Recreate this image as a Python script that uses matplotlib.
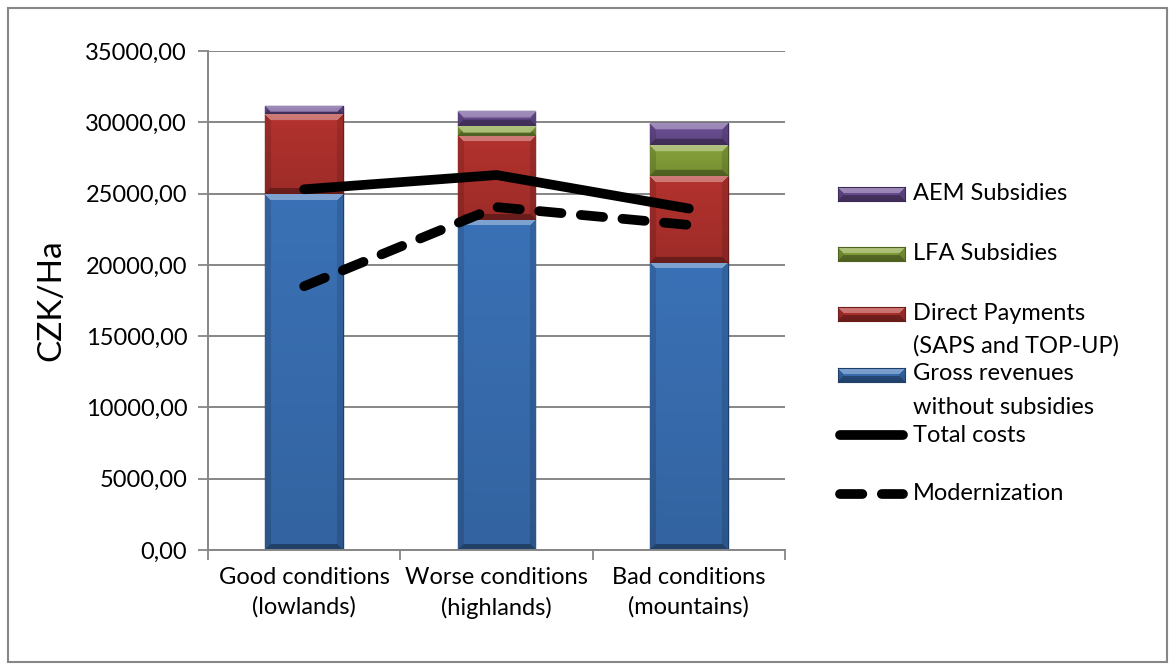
import matplotlib
matplotlib.use("Agg")
import matplotlib.pyplot as plt
import numpy as np
from matplotlib.colors import to_rgb
from matplotlib.patches import Rectangle
from matplotlib.lines import Line2D

plt.rcParams['font.family'] = ['Lato', 'DejaVu Sans']

categories = ['Good conditions\n(lowlands)', 'Worse conditions\n(highlands)', 'Bad conditions\n(mountains)']
gross = [24950, 23150, 20150]
direct = [5610, 5910, 6080]
lfa = [0, 700, 2170]
aem = [580, 1030, 1530]
total_costs = [25300, 26300, 23950]
modernization = [18500, 24050, 22800]

# name, values, base colour, edge colour
series = [
    ('Gross revenues\nwithout subsidies', gross, '#3a71b6', '#1f3f6b'),
    ('Direct Payments\n(SAPS and TOP-UP)', direct, '#b3322e', '#6e1c1a'),
    ('LFA Subsidies', lfa, '#86a23a', '#4f6320'),
    ('AEM Subsidies', aem, '#6c4f95', '#3c2b58'),
]


def bevel_image(color, w_px, h_px):
    # Excel-ish bevel: light top edge, dark bottom edge, darker sides
    base = np.array(to_rgb(color))
    w_px, h_px = max(int(w_px), 2), max(int(h_px), 2)
    img = np.tile(base, (h_px, w_px, 1))
    yy, xx = np.mgrid[0:h_px, 0:w_px]
    shade = np.zeros((h_px, w_px))
    b = 6
    dist_top = yy
    dist_bot = h_px - 1 - yy
    dist_side = np.minimum(xx, w_px - 1 - xx)
    top = (dist_top < b) & (dist_top <= dist_side)
    bot = (dist_bot < b) & (dist_bot <= dist_side) & ~top
    side = (dist_side < b) & ~top & ~bot
    shade[top] = 0.35
    shade[bot] = -0.3
    shade[side] = -0.12
    # slight vertical darkening
    shade += -0.12 * (yy / h_px)
    pos = shade > 0
    img[pos] = img[pos] + (1 - img[pos]) * shade[pos][:, None]
    img[~pos] = img[~pos] * (1 + shade[~pos])[:, None]
    return np.clip(img, 0, 1)


fig = plt.figure(figsize=(11.76, 6.7), dpi=100)
ax = fig.add_axes([208/1176, 1 - 550/670, (785-208)/1176, (550-51)/670])
ax.set_xlim(-0.5, 2.5)
ax.set_ylim(0, 35000)

x = np.arange(len(categories))
bottom = np.zeros(len(categories))
px_per_x = (785 - 208) / 3.0
px_per_y = (550 - 51) / 35000.0
for name, vals, col, edge in series:
    bars = ax.bar(x, vals, 0.405, bottom=bottom, color=col, edgecolor=edge, linewidth=1.0, zorder=2)
    for p in bars.patches:
        if p.get_height() <= 0:
            continue
        x0, y0 = p.get_x(), p.get_y()
        img = bevel_image(col, p.get_width() * px_per_x, p.get_height() * px_per_y)
        im = ax.imshow(img, aspect='auto', origin='upper', interpolation='bilinear',
                       extent=(x0, x0 + p.get_width(), y0, y0 + p.get_height()), zorder=2.1)
        im.set_clip_path(p)
    bottom += np.array(vals)

ax.plot(x, total_costs, color='black', lw=7, solid_capstyle='round', solid_joinstyle='round', zorder=4)
ax.plot(x, modernization, color='black', lw=7, dashes=(2.3, 2.0), dash_capstyle='round', zorder=4)

ax.set_xlim(-0.5, 2.5)
ax.set_ylim(0, 35000)
ax.set_yticks(np.arange(0, 35001, 5000))
ax.set_yticklabels([f'{v},00' for v in range(0, 35001, 5000)], fontsize=17)
ax.set_xticks(x)
ax.set_xticklabels(categories, fontsize=17, linespacing=1.5)
ax.tick_params(axis='x', length=0, pad=12)
ax.set_xticks([-0.5, 0.5, 1.5, 2.5], minor=True)
ax.tick_params(axis='x', which='minor', length=7, color='#868686', width=1.3)
ax.tick_params(axis='y', length=7, color='#868686', width=1.3, pad=8)
ax.grid(axis='y', color='#868686', lw=1.4, zorder=0)
ax.set_axisbelow(True)
for s in ['top', 'right']:
    ax.spines[s].set_visible(False)
for s in ['left', 'bottom']:
    ax.spines[s].set_color('#868686')
    ax.spines[s].set_linewidth(1.4)
ax.set_ylabel('CZK/Ha', fontsize=24, labelpad=14)

# legend drawn by hand, Excel style (handle aligned with first text line)
W, H = 1176, 670
def fx(px):
    return px / W
def fy(py):
    return 1 - py / H

legend_rows = [
    ('AEM Subsidies', 194, 'patch', series[3]),
    ('LFA Subsidies', 254, 'patch', series[2]),
    ('Direct Payments\n(SAPS and TOP-UP)', 314, 'patch', series[1]),
    ('Gross revenues\nwithout subsidies', 375, 'patch', series[0]),
    ('Total costs', 435, 'solid', None),
    ('Modernization', 494, 'dashed', None),
]
for label, py, kind, s in legend_rows:
    if kind == 'patch':
        img = bevel_image(s[2], 67, 14)
        lax = fig.add_axes([fx(838), fy(py + 7), fx(905) - fx(838), 14 / H])
        lax.imshow(img, aspect='auto', interpolation='bilinear')
        lax.set_xticks([])
        lax.set_yticks([])
        for sp in lax.spines.values():
            sp.set_color(s[3])
            sp.set_linewidth(0.8)
    elif kind == 'solid':
        fig.add_artist(Line2D([fx(840), fx(903)], [fy(py), fy(py)], transform=fig.transFigure,
                              color='black', lw=7, solid_capstyle='round'))
    else:
        fig.add_artist(Line2D([fx(840), fx(903)], [fy(py), fy(py)], transform=fig.transFigure,
                              color='black', lw=7, dashes=(2.3, 2.0), dash_capstyle='round'))
    if '\n' in label:
        first, second = label.split('\n')
        fig.text(fx(913), fy(py - 1), first, fontsize=17, va='center')
        fig.text(fx(913), fy(py + 32), second, fontsize=17, va='center')
    else:
        fig.text(fx(913), fy(py), label, fontsize=17, va='center')

fig.add_artist(Rectangle((fx(8), fy(662)), fx(1167) - fx(8), (662 - 8) / H,
                         transform=fig.transFigure, fill=False, edgecolor='#868686', lw=1.5))

fig.savefig('out.png', dpi=100)
